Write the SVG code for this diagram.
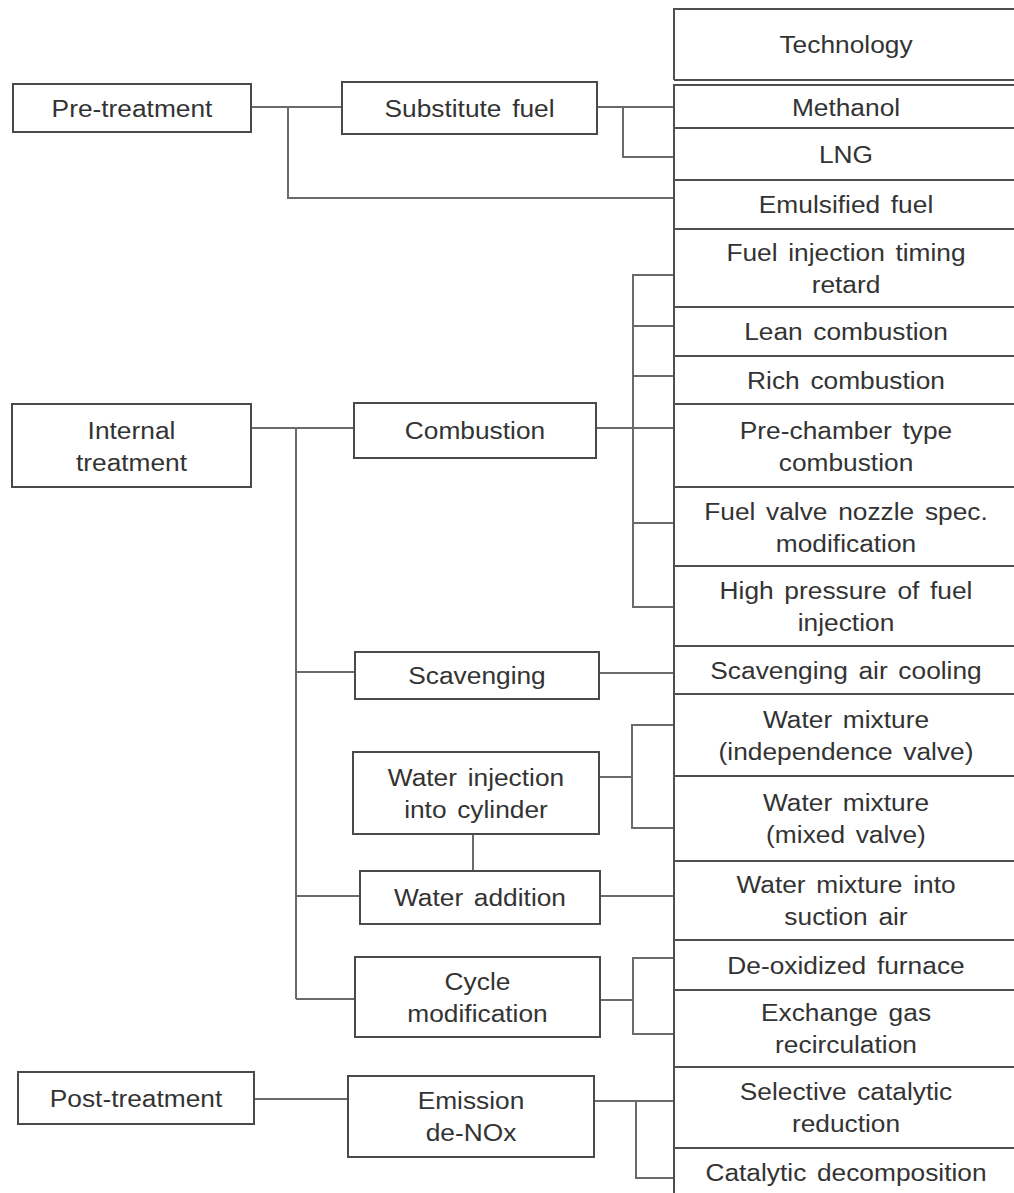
<svg xmlns="http://www.w3.org/2000/svg" width="1014" height="1193" viewBox="0 0 1014 1193">
<style>
  .box { fill: #ffffff; stroke: #4a4a4a; stroke-width: 2; }
  .row { fill: none; stroke: #4f4f4f; stroke-width: 2; }
  .conn { fill: none; stroke: #6a6a6a; stroke-width: 2; }
  .t { font-family: "Liberation Sans", Arial, sans-serif; font-size: 23.5px; fill: #333333; text-anchor: middle; word-spacing: 3px; }
</style>
<rect x="0" y="0" width="1014" height="1193" fill="#ffffff"/>

<g id="connectors">
  <path class="conn" d="M251,107 H342"/>
  <path class="conn" d="M288,107 V198 H674"/>
  <path class="conn" d="M597,107 H674"/>
  <path class="conn" d="M623,107 V157 H674"/>
  <path class="conn" d="M251,428 H354"/>
  <path class="conn" d="M296,428 V999"/>
  <path class="conn" d="M296,672 H355"/>
  <path class="conn" d="M296,896 H360"/>
  <path class="conn" d="M296,999 H355"/>
  <path class="conn" d="M596,428 H674"/>
  <path class="conn" d="M674,275 H633 V607 H674"/>
  <path class="conn" d="M633,326 H674 M633,376 H674 M633,523 H674"/>
  <path class="conn" d="M599,673 H674"/>
  <path class="conn" d="M599,777 H632"/>
  <path class="conn" d="M674,725 H632 V828 H674"/>
  <path class="conn" d="M473,834 V871"/>
  <path class="conn" d="M600,896 H674"/>
  <path class="conn" d="M600,1000 H633"/>
  <path class="conn" d="M674,958 H633 V1034 H674"/>
  <path class="conn" d="M254,1099 H348"/>
  <path class="conn" d="M594,1101 H674"/>
  <path class="conn" d="M636,1101 V1178 H674"/>
</g>

<g id="pre-treatment">
  <rect class="box" x="13" y="84" width="238" height="48"/>
  <text class="t" transform="translate(132,117) scale(1.12,1)">Pre-treatment</text>
</g>
<g id="substitute-fuel">
  <rect class="box" x="342" y="82" width="255" height="52"/>
  <text class="t" transform="translate(469.5,117) scale(1.12,1)">Substitute fuel</text>
</g>
<g id="internal-treatment">
  <rect class="box" x="12" y="404" width="239" height="83"/>
  <text class="t" transform="translate(131.5,439) scale(1.12,1)"><tspan x="0" y="0">Internal</tspan><tspan x="0" y="32">treatment</tspan></text>
</g>
<g id="combustion">
  <rect class="box" x="354" y="403" width="242" height="55"/>
  <text class="t" transform="translate(475,439) scale(1.12,1)">Combustion</text>
</g>
<g id="scavenging">
  <rect class="box" x="355" y="652" width="244" height="47"/>
  <text class="t" transform="translate(477,684) scale(1.12,1)">Scavenging</text>
</g>
<g id="water-injection">
  <rect class="box" x="353" y="752" width="246" height="82"/>
  <text class="t" transform="translate(476,786) scale(1.12,1)"><tspan x="0" y="0">Water injection</tspan><tspan x="0" y="32">into cylinder</tspan></text>
</g>
<g id="water-addition">
  <rect class="box" x="360" y="871" width="240" height="53"/>
  <text class="t" transform="translate(480,906) scale(1.12,1)">Water addition</text>
</g>
<g id="cycle-modification">
  <rect class="box" x="355" y="957" width="245" height="80"/>
  <text class="t" transform="translate(477.5,990) scale(1.12,1)"><tspan x="0" y="0">Cycle</tspan><tspan x="0" y="32">modification</tspan></text>
</g>
<g id="post-treatment">
  <rect class="box" x="18" y="1072" width="236" height="52"/>
  <text class="t" transform="translate(136,1107) scale(1.12,1)">Post-treatment</text>
</g>
<g id="emission-denox">
  <rect class="box" x="348" y="1076" width="246" height="81"/>
  <text class="t" transform="translate(471,1109) scale(1.12,1)"><tspan x="0" y="0">Emission</tspan><tspan x="0" y="32">de-NOx</tspan></text>
</g>

<g id="technology-table">
  <path class="row" d="M674,80 V9 H1014"/>
  <path class="row" d="M674,80 H1014"/>
  <path class="row" d="M674,1193 V85 H1014"/>
  <path class="row" d="M674,128 H1014 M674,180 H1014 M674,229 H1014 M674,307 H1014 M674,356 H1014 M674,404 H1014 M674,487 H1014 M674,566 H1014 M674,646 H1014 M674,694 H1014 M674,776 H1014 M674,861 H1014 M674,940 H1014 M674,990 H1014 M674,1067 H1014 M674,1148 H1014"/>
</g>

<g id="technology"><text class="t" transform="translate(846,53) scale(1.12,1)">Technology</text></g>
<g id="methanol"><text class="t" transform="translate(846,116) scale(1.12,1)">Methanol</text></g>
<g id="lng"><text class="t" transform="translate(846,163) scale(1.12,1)">LNG</text></g>
<g id="emulsified-fuel"><text class="t" transform="translate(846,213) scale(1.12,1)">Emulsified fuel</text></g>
<g id="fuel-injection-timing"><text class="t" transform="translate(846,261) scale(1.12,1)"><tspan x="0" y="0">Fuel injection timing</tspan><tspan x="0" y="32">retard</tspan></text></g>
<g id="lean-combustion"><text class="t" transform="translate(846,340) scale(1.12,1)">Lean combustion</text></g>
<g id="rich-combustion"><text class="t" transform="translate(846,389) scale(1.12,1)">Rich combustion</text></g>
<g id="pre-chamber"><text class="t" transform="translate(846,439) scale(1.12,1)"><tspan x="0" y="0">Pre-chamber type</tspan><tspan x="0" y="32">combustion</tspan></text></g>
<g id="fuel-valve-nozzle"><text class="t" transform="translate(846,520) scale(1.12,1)"><tspan x="0" y="0">Fuel valve nozzle spec.</tspan><tspan x="0" y="32">modification</tspan></text></g>
<g id="high-pressure"><text class="t" transform="translate(846,599) scale(1.12,1)"><tspan x="0" y="0">High pressure of fuel</tspan><tspan x="0" y="32">injection</tspan></text></g>
<g id="scavenging-air-cooling"><text class="t" transform="translate(846,679) scale(1.12,1)">Scavenging air cooling</text></g>
<g id="water-mixture-independence"><text class="t" transform="translate(846,728) scale(1.12,1)"><tspan x="0" y="0">Water mixture</tspan><tspan x="0" y="32">(independence valve)</tspan></text></g>
<g id="water-mixture-mixed"><text class="t" transform="translate(846,811) scale(1.12,1)"><tspan x="0" y="0">Water mixture</tspan><tspan x="0" y="32">(mixed valve)</tspan></text></g>
<g id="water-mixture-suction"><text class="t" transform="translate(846,893) scale(1.12,1)"><tspan x="0" y="0">Water mixture into</tspan><tspan x="0" y="32">suction air</tspan></text></g>
<g id="de-oxidized-furnace"><text class="t" transform="translate(846,974) scale(1.12,1)">De-oxidized furnace</text></g>
<g id="exchange-gas"><text class="t" transform="translate(846,1021) scale(1.12,1)"><tspan x="0" y="0">Exchange gas</tspan><tspan x="0" y="32">recirculation</tspan></text></g>
<g id="selective-catalytic"><text class="t" transform="translate(846,1100) scale(1.12,1)"><tspan x="0" y="0">Selective catalytic</tspan><tspan x="0" y="32">reduction</tspan></text></g>
<g id="catalytic-decomposition"><text class="t" transform="translate(846,1181) scale(1.12,1)">Catalytic decomposition</text></g>
</svg>
